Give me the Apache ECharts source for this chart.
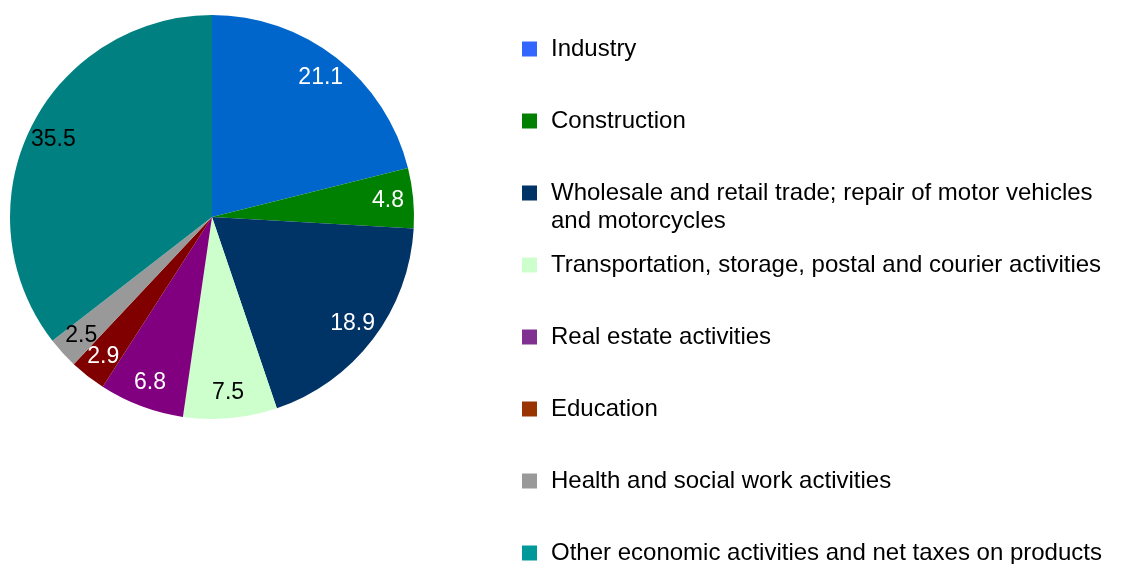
<!DOCTYPE html>
<html><head><meta charset="utf-8">
<script src="https://cdn.jsdelivr.net/npm/echarts@6/dist/echarts.min.js"></script>
<style>html,body{margin:0;padding:0;background:#fff}#c{width:1134px;height:564px}</style>
</head><body><div id="c"></div>
<script>
const categories = [
  "Industry",
  "Construction",
  "Wholesale and retail trade; repair of motor vehicles\nand motorcycles",
  "Transportation, storage, postal and courier activities",
  "Real estate activities",
  "Education",
  "Health and social work activities",
  "Other economic activities and net taxes on products"
];
const values = [21.1, 4.8, 18.9, 7.5, 6.8, 2.9, 2.5, 35.5];
const sliceColors = ["#0066CC","#008000","#003366","#CCFFCC","#800080","#800000","#999999","#008080"];
const legendColors = ["#3366FF","#008000","#003366","#CCFFCC","#7F3091","#993300","#999999","#009999"];
const labelColors = ["#fff","#fff","#fff","#000","#fff","#fff","#000","#000"];

const FONT = "'Liberation Sans', Arial, sans-serif";
const R = 202, CX = 212, CY = 217;
const ROW0 = 49, PITCH = 72, LH = 28;

const legends = categories.map((name, i) => {
  const lines = name.split("\n").length;
  const h = 15 + (lines - 1) * LH;
  const icon = lines > 1
    ? 'path://M0,0L15,0L15,15L0,15Z M0,' + h + 'L0.001,' + h + 'Z'
    : 'rect';
  return {
    orient: 'vertical', left: 522, top: ROW0 - LH / 2 + i * PITCH,
    padding: 0, itemWidth: 15, itemHeight: h, itemGap: 0,
    icon: icon, selectedMode: false,
    data: [{ name: name, itemStyle: { color: legendColors[i] } }],
    textStyle: { fontFamily: FONT, fontSize: 24, color: '#000', lineHeight: LH, padding: [0, 0, 0, 9] }
  };
});

const pieData = categories.map((n, i) => ({ name: n, value: values[i], itemStyle: { color: sliceColors[i] } }));
const labelData = categories.map((n, i) => ({ name: n, value: values[i],
  label: { color: labelColors[i] } }));

const chart = echarts.init(document.getElementById('c'), null, { renderer: 'canvas' });
chart.setOption({
  animation: false,
  backgroundColor: '#fff',
  legend: legends,
  series: [
    {
      type: 'pie', center: [CX, CY], radius: [0, R], startAngle: 90, clockwise: true,
      data: pieData, label: { show: false }, labelLine: { show: false },
      itemStyle: { borderWidth: 0 }, emphasis: { disabled: true }, silent: true
    },
    {
      type: 'pie', center: [CX, CY], radius: [R * 0.72, R], startAngle: 90, clockwise: true,
      data: labelData, legendHoverLink: false, avoidLabelOverlap: false,
      itemStyle: { color: 'rgba(0,0,0,0)', borderWidth: 0 },
      label: { show: true, position: 'inside', formatter: p => p.value.toFixed(1),
        fontFamily: FONT, fontSize: 23 },
      labelLayout: { hideOverlap: false },
      labelLine: { show: false }, emphasis: { disabled: true }, silent: true
    }
  ]
});
</script></body></html>
